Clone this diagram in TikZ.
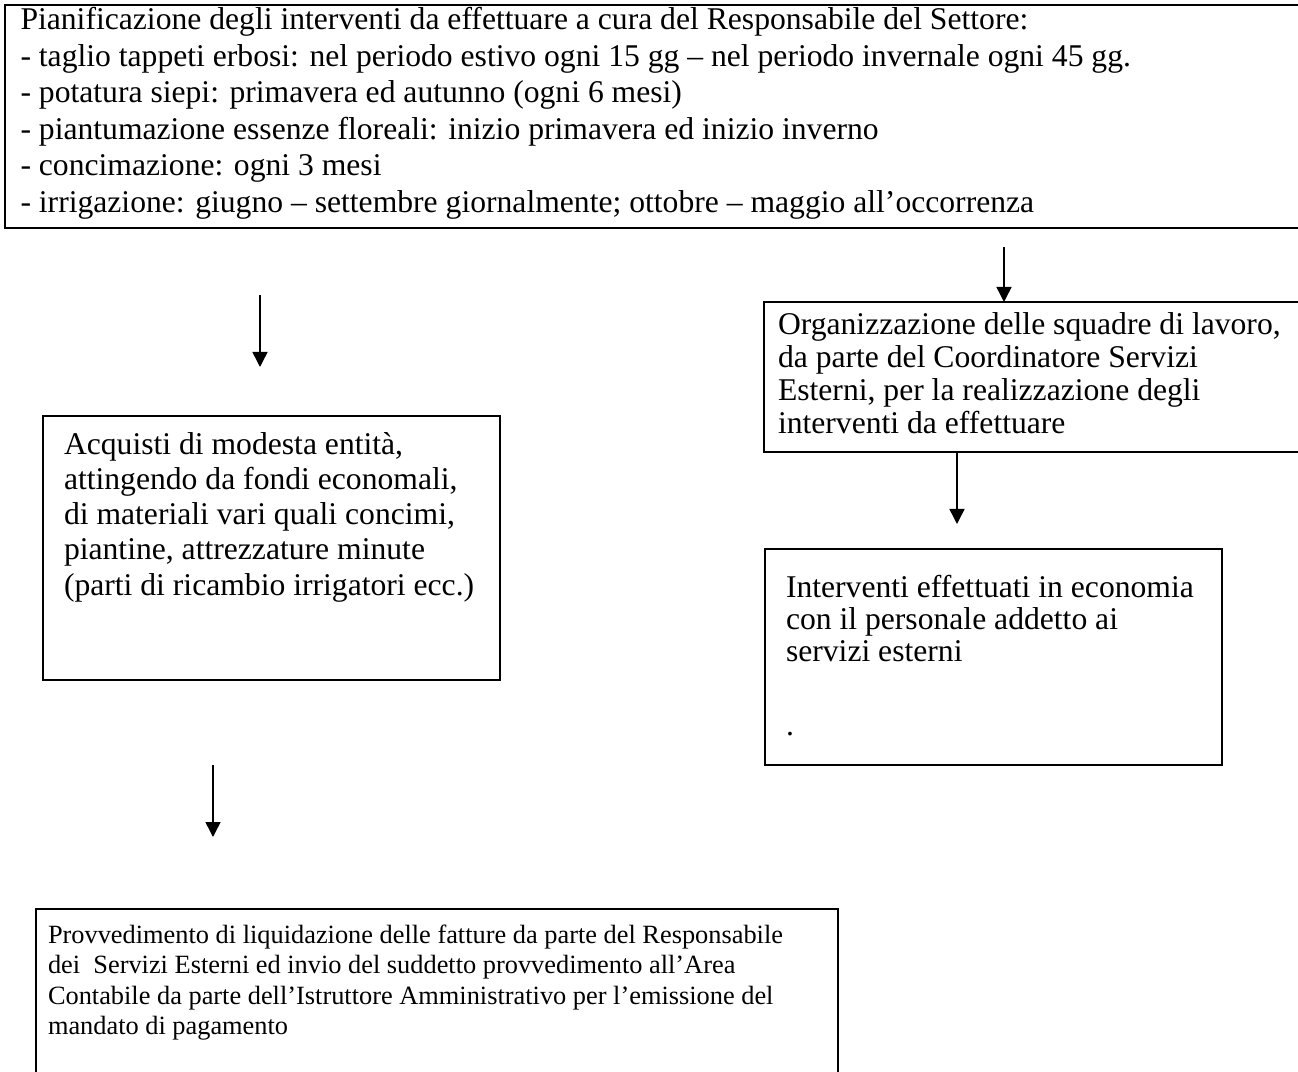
\documentclass[tikz,border=0pt]{standalone}
\usepackage{fontspec}
\setmainfont{Liberation Serif}
\usetikzlibrary{arrows.meta,positioning,calc}
\newcommand{\celltext}[4]{\parbox[c][#1][t]{#2}{\raggedright\vspace*{#3}#4}}
\newcommand{\bigtext}[1]{\fontsize{18}{#1}\selectfont}

\begin{document}
\begin{tikzpicture}[x=1mm, y=-1mm,
  box/.style={draw, line width=0.4mm, anchor=north west, inner ysep=0pt,
    outer sep=0pt},
  arrow/.style={-{Triangle[length=3mm, width=3mm]}, line width=0.3mm}
]
\useasboundingbox (0,0) rectangle (259.6,214.4);
\clip (0,0) rectangle (259.6,214.4);
\node[box, font=\bigtext{20.75pt}, inner xsep=3.1mm] (plan) at (1,1)
  {\celltext{44.6mm}{254.8mm}{0.5mm}{Pianificazione degli interventi da effettuare a cura del Responsabile del Settore:\\
  - taglio tappeti erbosi: nel periodo estivo ogni 15 gg – nel periodo invernale ogni 45 gg.\\
  - potatura siepi: primavera ed autunno (ogni 6 mesi)\\
  - piantumazione essenze floreali: inizio primavera ed inizio inverno\\
  - concimazione: ogni 3 mesi\\
  - irrigazione: giugno – settembre giornalmente; ottobre – maggio all’occorrenza}};
\node[box, font=\bigtext{18.7pt}, inner xsep=2.8mm] (crews) at (152.8,60.4)
  {\celltext{30mm}{103.6mm}{2.1mm}{Organizzazione delle squadre di lavoro,\\
  da parte del Coordinatore Servizi\\
  Esterni, per la realizzazione degli\\
  interventi da effettuare}};
\node[box, font=\bigtext{20pt}, inner xsep=4.2mm] (buy) at (8.6,83.2)
  {\celltext{52.8mm}{83mm}{3.3mm}{Acquisti di modesta entità,\\
  attingendo da fondi economali,\\
  di materiali vari quali concimi,\\
  piantine, attrezzature minute\\
  (parti di ricambio irrigatori ecc.)}};
\node[box, font=\bigtext{18.1pt}, inner xsep=4.2mm] (works) at (153,109.8)
  {\celltext{43.2mm}{83mm}{5.3mm}{Interventi effettuati in economia\\
  con il personale addetto ai\\
  servizi esterni\\[24pt]
  .}};
\node[box, font=\fontsize{15}{17.2pt}\selectfont, inner xsep=2.4mm] (payment) at (7.2,181.8)
  {\celltext{36.2mm}{155.6mm}{3.2mm}{Provvedimento di liquidazione delle fatture da parte del Responsabile\\
  dei\ \ Servizi Esterni ed invio del suddetto provvedimento all’Area\\
  Contabile da parte dell’Istruttore Amministrativo per l’emissione del\\
  mandato di pagamento}};
\coordinate (buyin) at (52,59);
\coordinate (buyend) at (52,73.4);
\coordinate (crewsin) at (200.8,49.4);
\coordinate (worksend) at (191.4,104.8);
\coordinate (payin) at (42.6,153);
\coordinate (payend) at (42.6,167.4);
\draw[arrow] (buyin) -- (buyend);
\draw[arrow] (crewsin) -- (crewsin |- crews.north);
\draw[arrow] (crews.south -| worksend) -- (worksend);
\draw[arrow] (payin) -- (payend);
\end{tikzpicture}
\end{document}
